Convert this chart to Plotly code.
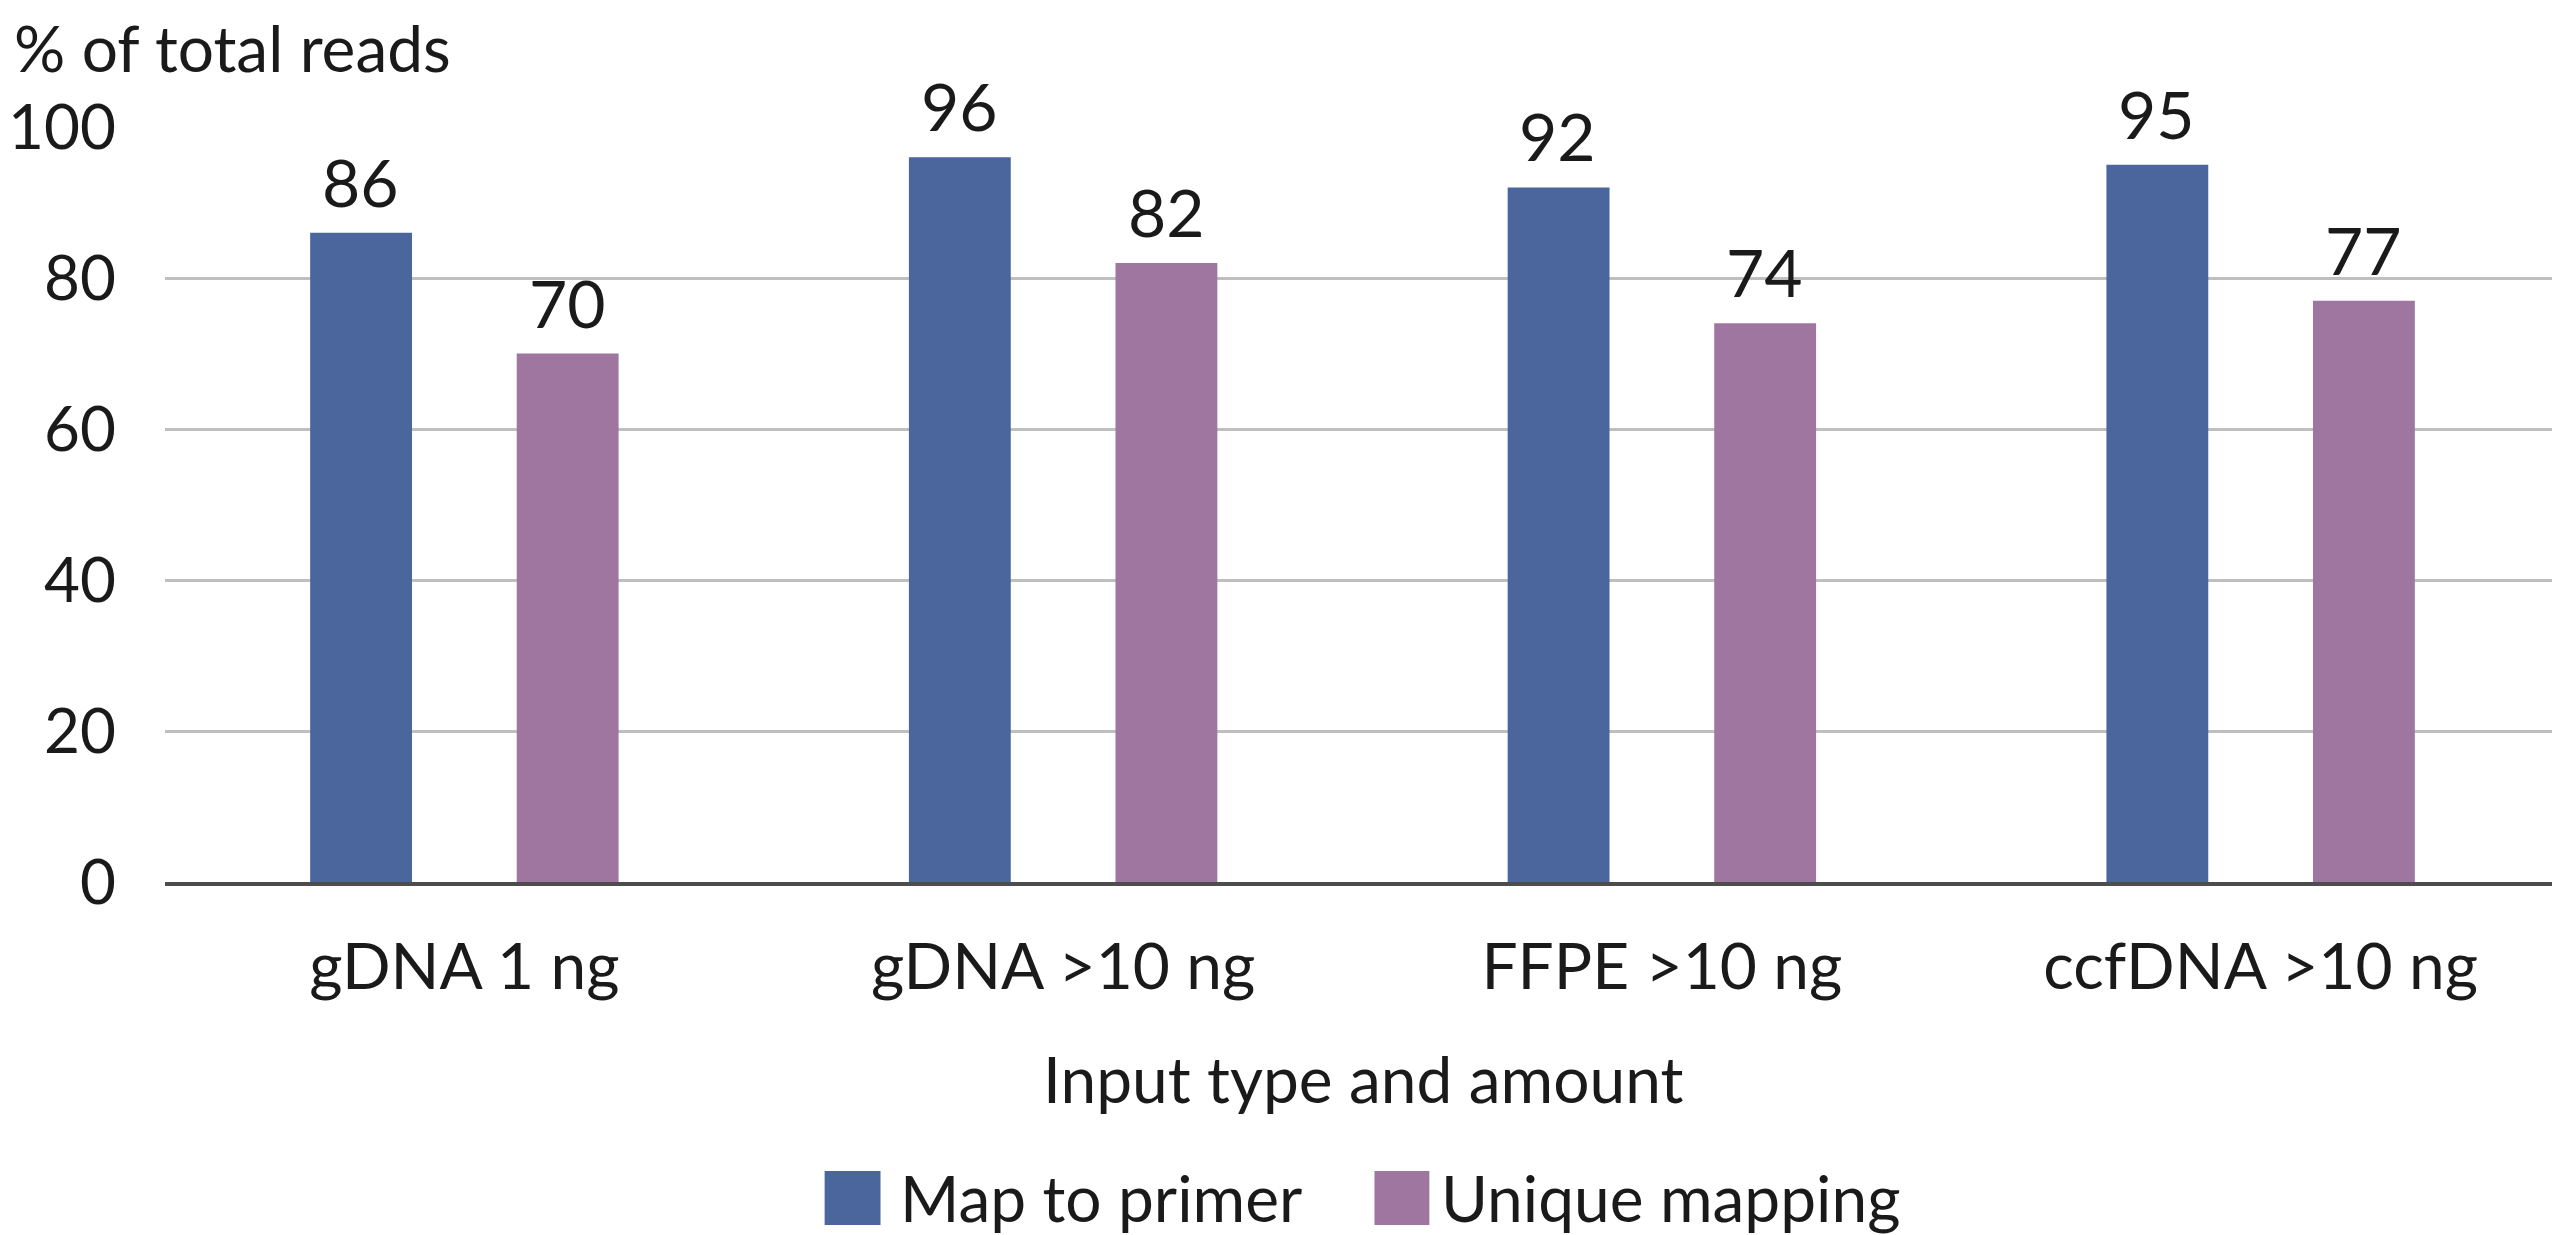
import plotly.graph_objects as go

categories = ["gDNA 1 ng", "gDNA >10 ng", "FFPE >10 ng", "ccfDNA >10 ng"]
map_to_primer = [86, 96, 92, 95]
unique_mapping = [70, 82, 74, 77]
series_names = ["Map to primer", "Unique mapping"]
y_ticks = [0, 20, 40, 60, 80, 100]

BLUE = "#4A669D"
PURPLE = "#9E76A0"
FONT = "Lato"
FS = 64
TXT = "#1a1a1a"

OFF = 8  # default page body margin
W, H = 2560 - OFF, 1235 - OFF
L, R, T = 160 - OFF, 0, 127 - OFF
BOTTOM_PX = 882 - OFF
B = H - BOTTOM_PX

fig = go.Figure()
fig.add_trace(go.Bar(
    x=categories, y=map_to_primer, name=series_names[0],
    marker=dict(color=BLUE, line=dict(width=0)), showlegend=False,
))
fig.add_trace(go.Bar(
    x=categories, y=unique_mapping, name=series_names[1],
    marker=dict(color=PURPLE, line=dict(width=0)), showlegend=False,
))

pw = W - L - R
ph = H - T - B
def px(x):
    return (x - OFF - L) / pw
def py(y):
    return (BOTTOM_PX - (y - OFF)) / ph

shapes = []
annotations = []

# value labels above bars
for vals, xs in ((map_to_primer, -104), (unique_mapping, 103)):
    for c, v in zip(categories, vals):
        annotations.append(dict(text=str(v), x=c, y=v, xref="x", yref="y",
                                xshift=xs, yshift=10, xanchor="center", yanchor="bottom",
                                showarrow=False, font=dict(family=FONT, size=FS + 2, color=TXT)))

legend_items = [
    (series_names[0], BLUE, 821, 877, 895),
    (series_names[1], PURPLE, 1372, 1427, 1437),
]
for name, col, x0, x1, tx in legend_items:
    shapes.append(dict(type="rect", xref="paper", yref="paper",
                       x0=px(x0), x1=px(x1), y0=py(1225), y1=py(1171),
                       fillcolor=col, line=dict(width=0)))
    annotations.append(dict(text=name, xref="paper", yref="paper",
                            x=px(tx), y=py(1197), xanchor="left", yanchor="middle",
                            showarrow=False, font=dict(family=FONT, size=FS, color=TXT)))

annotations.append(dict(text="% of total reads", xref="paper", yref="paper",
                        x=px(OFF), y=py(OFF), xanchor="left", yanchor="top", borderpad=0,
                        showarrow=False, font=dict(family=FONT, size=FS, color=TXT)))
annotations.append(dict(text="Input type and amount", xref="paper", yref="paper",
                        x=0.5, y=py(1078), xanchor="center", yanchor="middle",
                        showarrow=False, font=dict(family=FONT, size=FS, color=TXT)))

fig.update_layout(
    width=W, height=H,
    margin=dict(l=L, r=R, t=T, b=B),
    paper_bgcolor="white", plot_bgcolor="white",
    barmode="group", bargap=0.31, bargroupgap=0.507,
    font=dict(family=FONT, size=FS, color=TXT),
    shapes=shapes, annotations=annotations,
)
fig.update_xaxes(
    showgrid=False, showline=True, linecolor="#4d4d4d", linewidth=4,
    ticks="", tickfont=dict(family=FONT, size=FS, color=TXT),
    ticklabelstandoff=26, zeroline=False,
)
fig.update_yaxes(
    range=[0, 100], tickvals=y_ticks, showgrid=True, gridcolor="#BFBFBF", gridwidth=3,
    showline=False, zeroline=False, ticks="",
    tickfont=dict(family=FONT, size=FS - 2, color=TXT), ticklabelstandoff=48,
)

fig.write_html("out.html")
